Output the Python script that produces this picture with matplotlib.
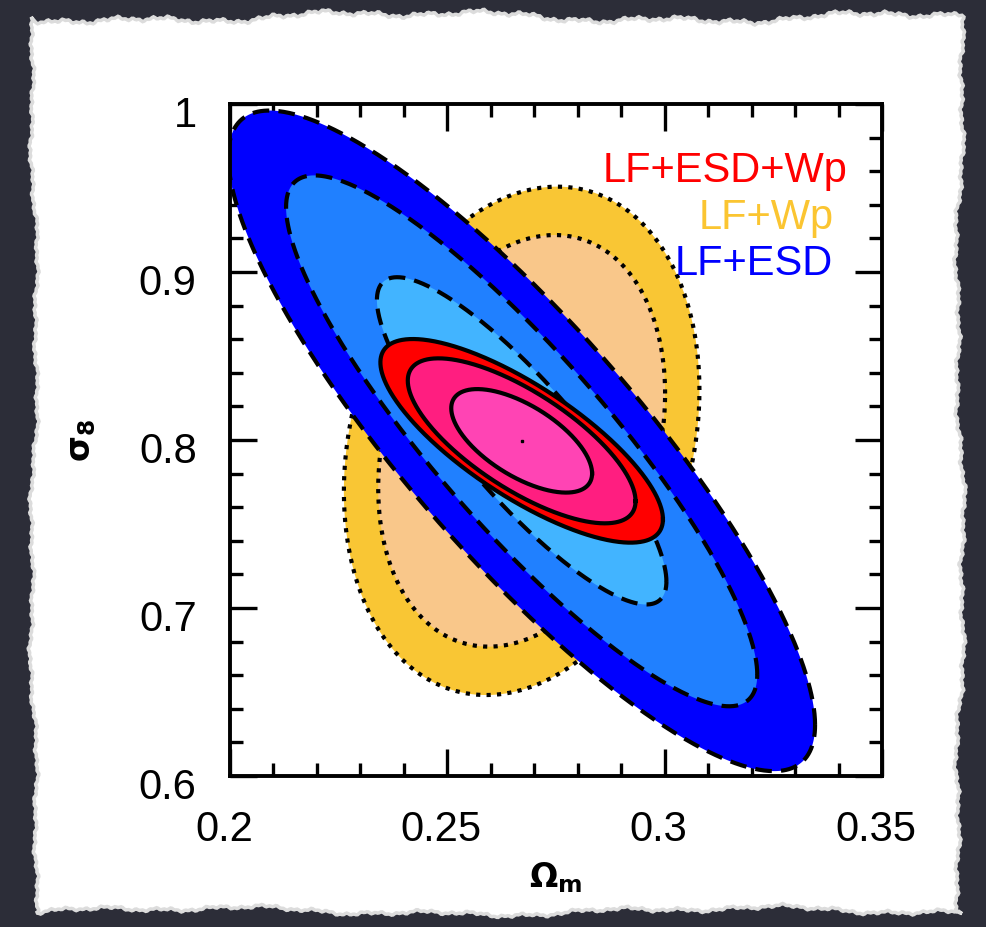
import numpy as np
import matplotlib
matplotlib.use("Agg")
import matplotlib.pyplot as plt
from matplotlib.patches import Polygon
from matplotlib.ticker import MultipleLocator, FixedLocator, FixedFormatter
from matplotlib.transforms import ScaledTranslation

# ---------------- data ----------------
best_fit_om = 0.2671
best_fit_s8 = 0.7995

# LF+ESD (blue), contours outer -> inner: half-extent in Omega_m, half-extent in sigma_8, correlation
esd_dx = [0.0675, 0.0542, 0.0333]
esd_dy = [0.1966, 0.1580, 0.0974]
esd_rho = [-0.86, -0.88, -0.86]
esd_colors = ["#0000ff", "#2080ff", "#42b4ff"]

# LF+Wp (orange)
wp_dx = [0.0409, 0.0330]
wp_dy = [0.1513, 0.1225]
wp_rho = [0.20, 0.23]
wp_colors = ["#f9c634", "#f9c78a"]

# LF+ESD+Wp (red)
all_dx = [0.0325, 0.0262, 0.0162]
all_dy = [0.0606, 0.0491, 0.0308]
all_rho = [-0.77, -0.73, -0.63]
all_colors = ["#ff0000", "#ff1e80", "#ff44b4"]

legend_labels = ["LF+ESD+Wp", "LF+Wp", "LF+ESD"]
legend_colors = ["#ff0000", "#fbc531", "#0000ff"]

xticks = [0.2, 0.25, 0.3, 0.35]
xticklabels = ["0.2", "0.25", "0.3", "0.35"]
yticks = [0.6, 0.7, 0.8, 0.9, 1.0]
yticklabels = ["0.6", "0.7", "0.8", "0.9", "1"]

# ---------------- figure ----------------
W, H = 987, 928
fig = plt.figure(figsize=(W / 100, H / 100), dpi=100)
fig.patch.set_facecolor("#2c2d38")

# torn paper background (decorative)
def wiggle(n, amp, p):
    s = np.linspace(0, 1, n)
    return amp * (0.40 * np.sin(2 * np.pi * 1.7 * s + p)
                  + 0.25 * np.sin(2 * np.pi * 5.3 * s + 2.1 * p)
                  + 0.15 * np.sin(2 * np.pi * 17.9 * s + 3.7 * p)
                  + 0.10 * np.sin(2 * np.pi * 53.1 * s + 1.3 * p)
                  + 0.08 * np.sin(2 * np.pi * 131.7 * s + 0.7 * p))

n = 600
top_x = np.linspace(36, 962, n); top_y = 18 + wiggle(n, 10, 0.4)
right_y = np.linspace(18, 912, n); right_x = 960 + wiggle(n, 8, 1.3)
bot_x = np.linspace(962, 36, n); bot_y = 912 + wiggle(n, 8, 2.2)
left_y = np.linspace(912, 18, n); left_x = 34 + wiggle(n, 7, 0.9)
px = np.concatenate([top_x, right_x, bot_x, left_x])
py = np.concatenate([top_y, right_y, bot_y, left_y])
paper = Polygon(np.column_stack([px / W, 1 - py / H]), closed=True,
                transform=fig.transFigure, facecolor="white",
                edgecolor="#dcdcdc", lw=2.5, zorder=-10)
fig.patches.append(paper)

ax = fig.add_axes([230 / W, 1 - 777 / H, 652 / W, 672 / H])
ax.set_zorder(5)
ax.set_facecolor("white")


def contour_xy(cx, cy, dx, dy, rho, npts=800):
    t = np.linspace(0, 2 * np.pi, npts)
    x = cx + dx * np.cos(t)
    y = cy + dy * (rho * np.cos(t) + np.sqrt(1 - rho ** 2) * np.sin(t))
    return x, y


def draw_set(dxs, dys, rhos, colors, ls, z):
    for dx, dy, rho, c in zip(dxs, dys, rhos, colors):
        x, y = contour_xy(best_fit_om, best_fit_s8, dx, dy, rho)
        ax.fill(x, y, color=c, lw=0, zorder=z)
        line, = ax.plot(x, y, color="black", lw=3.0, zorder=z + 0.5)
        line.set_linestyle(ls)
        line.set_dash_capstyle("butt")
        z += 1


draw_set(wp_dx, wp_dy, wp_rho, wp_colors, (0, (1.0, 1.5)), 1)
draw_set(esd_dx, esd_dy, esd_rho, esd_colors, (0, (4.0, 2.2)), 5)
draw_set(all_dx, all_dy, all_rho, all_colors, "-", 10)
ax.plot([best_fit_om], [best_fit_s8], "s", color="black", ms=2, zorder=20)

ax.set_xlim(0.2, 0.35)
ax.set_ylim(0.6, 1.0)
ax.xaxis.set_major_locator(FixedLocator(xticks))
ax.xaxis.set_major_formatter(FixedFormatter(xticklabels))
ax.yaxis.set_major_locator(FixedLocator(yticks))
ax.yaxis.set_major_formatter(FixedFormatter(yticklabels))
ax.xaxis.set_minor_locator(MultipleLocator(0.01))
ax.yaxis.set_minor_locator(MultipleLocator(0.02))
ax.tick_params(which="both", direction="in", top=True, right=True,
               width=2.4, color="black")
ax.tick_params(which="major", length=19.5, pad=24)
ax.tick_params(which="minor", length=9.5)
for sp in ax.spines.values():
    sp.set_linewidth(2.8)
    sp.set_zorder(30)

for lab in ax.get_xticklabels() + ax.get_yticklabels():
    lab.set_fontfamily("Liberation Sans")
    lab.set_fontsize(30)
for lab in ax.get_xticklabels():
    lab.set_transform(lab.get_transform() + ScaledTranslation(-0.06, 0, fig.dpi_scale_trans))
for lab in ax.get_yticklabels():
    lab.set_transform(lab.get_transform() + ScaledTranslation(0, -0.07, fig.dpi_scale_trans))

# legend texts
leg_pos = [(0.572, 0.886), (0.719, 0.816), (0.682, 0.747)]
for (lx, ly), txt, col in zip(leg_pos, legend_labels, legend_colors):
    ax.text(lx, ly, txt, transform=ax.transAxes, color=col, fontsize=30,
            family="Liberation Sans", ha="left", va="baseline", zorder=40)

plt.rcParams["mathtext.fontset"] = "dejavusans"
fig.text(556 / W, 1 - 878 / H, r"$\mathbf{\Omega_m}$", ha="center", va="center",
         fontsize=24, color="black")
fig.text(82 / W, 1 - 440 / H, r"$\mathbf{\sigma_8}$", ha="center", va="center",
         rotation=90, fontsize=24, color="black")

fig.savefig("out.png", dpi=100, facecolor=fig.get_facecolor())
